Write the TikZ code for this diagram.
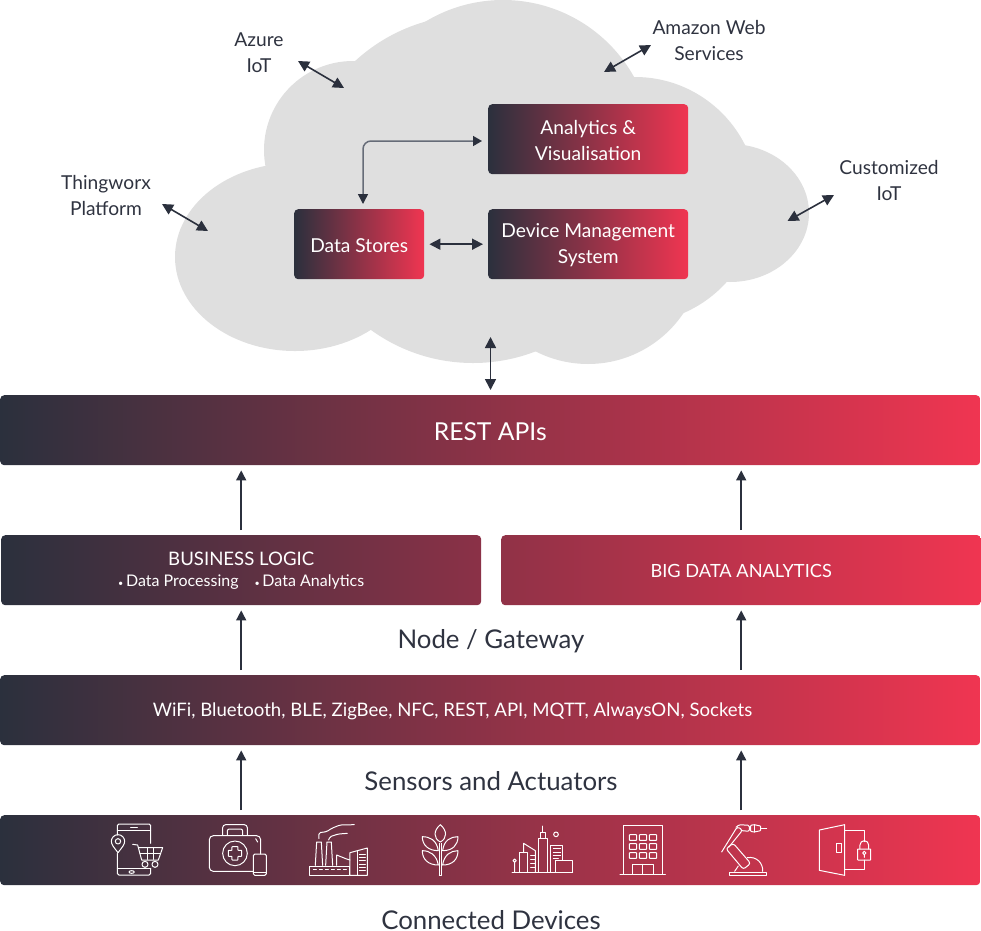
\documentclass[tikz,border=0pt]{standalone}
\usepackage{fontspec}
\setmainfont{Lato}
\usetikzlibrary{arrows.meta,calc}
\definecolor{gdark}{HTML}{2B303D}
\definecolor{gred}{HTML}{F03551}
\definecolor{cloudc}{HTML}{DFDFDF}
\definecolor{lbl}{HTML}{2F3340}
\definecolor{gline}{HTML}{666C78}
\definecolor{gmidL}{HTML}{8B3147}
\definecolor{gmidR}{HTML}{903247}
\newcommand{\nudged}[2]{\raisebox{-#1pt}[\height][\depth]{\begin{tabular}{@{}c@{}}#2\end{tabular}}}
\tikzset{
 gbox/.style={rounded corners=4pt,inner sep=0pt,text=white,align=center,left color=#1,right color=gred,anchor=north west},
 gbox/.default=gdark,
 lab/.style={text=lbl,align=center,inner sep=0pt,font=\fontsize{19.2}{26}\selectfont},
 big/.style={text=lbl,inner sep=0pt,font=\fontsize{25.8}{28}\selectfont},
 small/.style={font=\fontsize{19.2}{26}\selectfont},
 arr/.style={draw=gdark,line width=1.5pt,-{Triangle[length=10pt,width=10pt]}},
 darr/.style={draw=gdark,line width=1.6pt,{Triangle[length=11pt,width=11pt]}-{Triangle[length=11pt,width=11pt]}},
 ic/.style={draw=white,line width=1pt,line join=round,line cap=round},
}
\begin{document}
\begin{tikzpicture}[x=1pt,y=-1pt]
\useasboundingbox (0,0) rectangle (981,930);
% cloud
\fill[cloudc] (295,257) ellipse [x radius=120,y radius=94];
\fill[cloudc] (353,150) circle [radius=89];
\fill[cloudc] (503,150) circle [radius=150];
\fill[cloudc] (635,200) circle [radius=123];
\fill[cloudc] (730,213) ellipse [x radius=79,y radius=69];
\fill[cloudc] (473,189) circle [radius=174];
\fill[cloudc] (588,249) circle [radius=115];
\fill[cloudc] (680,280) -- (694,295) -- (716,281.5) -- (716,270) -- cycle;
% inner boxes
\node[gbox,small,minimum width=200pt,minimum height=70pt] (ana) at (488,104) {\nudged{3}{Analytics \&\\Visualisation}};
\node[gbox,small,minimum width=200pt,minimum height=70pt] (dms) at (488,209) {\nudged{1}{Device Management\\System}};
\node[gbox,small,minimum width=130pt,minimum height=70pt] (ds) at (294,209) {\nudged{3}{Data Stores}};
\coordinate (elbow) at (363,141);
\draw[draw=gline,line width=1.5pt,rounded corners=8pt,
  {Triangle[length=10pt,width=10pt,color=gdark]}-{Triangle[length=9pt,width=10pt,color=gdark]},shorten >=6pt,shorten <=5pt]
  (ds.north -| elbow) -- (elbow) -- (ana.west |- elbow);
\draw[darr,shorten >=5pt,shorten <=5pt] (ds.east) -- (dms.west);
% outer labels
\node[lab] (azure) at (259,52.5) {Azure\\IoT};
\node[lab] (aws) at (709,40.5) {Amazon Web\\Services};
\node[lab] (thing) at (106,195) {Thingworx\\Platform};
\node[lab] (cust) at (889,180) {Customized\\IoT};
\coordinate (a1) at (298,61); \coordinate (a2) at (344,88);
\coordinate (b1) at (651,45); \coordinate (b2) at (604,72);
\coordinate (c1) at (834,195); \coordinate (c2) at (787.5,221);
\coordinate (d1) at (162,204); \coordinate (d2) at (208,231);
\draw[darr] (a1) -- (a2);
\draw[darr] (b1) -- (b2);
\draw[darr] (c1) -- (c2);
\draw[darr] (d1) -- (d2);
% bars
\node[gbox,minimum width=980pt,minimum height=70pt,font=\fontsize{24.7}{28}\selectfont] (rest) at (0,395) {\nudged{5}{REST APIs}};
\node[gbox=gdark,right color=gmidL,minimum width=480pt,minimum height=70pt,font=\fontsize{18.6}{21}\selectfont] (biz) at (1,535) {\nudged{1.5}{BUSINESS LOGIC\\\fontsize{16}{21}\selectfont {\fontsize{9}{21}\selectfont •}\,Data Processing\quad{\fontsize{9}{21}\selectfont •}\,Data Analytics}};
\node[gbox=gmidR,minimum width=480pt,minimum height=70pt,font=\fontsize{18.2}{22}\selectfont] (bigd) at (501,535) {\nudged{3}{BIG DATA ANALYTICS}};
\node[big] (gw) at (491,641) {Node / Gateway};
\node[gbox,minimum width=980pt,minimum height=70pt] (proto) at (0,675) {};
\node[text=white,inner sep=0pt,font=\fontsize{18.6}{22}\selectfont] (prototext) at (452.5,711) {WiFi, Bluetooth, BLE, ZigBee, NFC, REST, API, MQTT, AlwaysON, Sockets};
\node[big] (sa) at (491,781) {Sensors and Actuators};
\node[gbox,minimum width=980pt,minimum height=70pt] (dev) at (0,815) {};
\node[big] (cd) at (491,920) {Connected Devices};
% connectors
\coordinate (ctop) at (490.5,337);
\draw[darr,shorten >=5pt] (ctop) -- (rest.north -| ctop);
\draw[arr,shorten >=5pt,shorten <=5pt] (biz.north) -- (rest.south -| biz.north);
\draw[arr,shorten >=5pt,shorten <=5pt] (bigd.north) -- (rest.south -| bigd.north);
\draw[arr,shorten >=5pt,shorten <=5pt] (proto.north -| biz.south) -- (biz.south);
\draw[arr,shorten >=5pt,shorten <=5pt] (proto.north -| bigd.south) -- (bigd.south);
\draw[arr,shorten >=5pt,shorten <=5pt] (dev.north -| biz.south) -- (proto.south -| biz.south);
\draw[arr,shorten >=5pt,shorten <=5pt] (dev.north -| bigd.south) -- (proto.south -| bigd.south);
% icons, coordinates in zoom space
\begin{scope}[shift={(90,810)},x=0.3333pt,y=-0.3333pt]
% phone + cart
\draw[ic,rounded corners=1.5pt] (82,75) -- (82,42) -- (182,42) -- (182,100);
\draw[ic,rounded corners=1.5pt] (82,130) -- (82,195) -- (182,195) -- (182,175);
\draw[ic] (82,60) -- (182,60) (82,175) -- (182,175) (122,51) -- (142,51);
\draw[ic] (125,186) ellipse (8 and 4);
\draw[ic] (84,128) .. controls (72,112) and (64,104) .. (64,94) arc (180:360:20) .. controls (104,104) and (96,112) .. (84,128) -- cycle;
\draw[ic] (84,94) circle (8);
\draw[ic] (128,103) -- (143,105) -- (155,150) -- (205,150) -- (218,113) -- (146,113);
\draw[ic] (150,130) -- (212,130) (172,115) -- (172,148) (190,115) -- (190,148);
\draw[ic] (165,163) circle (9) (195,163) circle (9);
% kit
\draw[ic,rounded corners=3pt] (398,75) -- (398,44) -- (472,44) -- (472,75);
\draw[ic,rounded corners=2pt] (412,75) -- (412,57) -- (458,57) -- (458,75);
\draw[ic,rounded corners=4pt] (488,184) -- (358,184) -- (358,77) -- (512,77) -- (512,132);
\draw[ic] (497,86) -- (503,96);
\draw[ic] (435,130) circle (37);
\draw[ic,rounded corners=0.5pt] (426,110) -- (444,110) -- (444,121) -- (455,121) -- (455,139) -- (444,139) -- (444,150) -- (426,150) -- (426,139) -- (415,139) -- (415,121) -- (426,121) -- cycle;
\draw[ic,rounded corners=1.5pt] (490,132) rectangle (529,196);
\draw[ic] (490,186) -- (529,186);
% factory
\draw[ic] (660,196) -- (660,168) -- (780,168) -- (780,196) -- cycle;
\draw[ic,dashed] (670,178) -- (776,178);
\draw[ic] (676,166) -- (680,96) -- (694,96) -- (698,166);
\draw[ic] (707,166) -- (711,96) -- (724,96) -- (728,166);
\draw[ic] (740,166) -- (740,135) -- (770,147) -- (780,150);
\draw[ic] (780,196) -- (780,128) -- (832,114) -- (832,196) -- cycle;
\draw[ic] (802,196) -- (802,124) (808,132) -- (826,132) (808,142) -- (826,142) (808,152) -- (826,152) (808,162) -- (826,162) (808,172) -- (826,172) (808,182) -- (826,182);
\draw[ic,rounded corners=1.5pt] (687,86) -- (687,68) -- (710,65) -- (725,55) -- (750,45) -- (793,44);
\draw[ic,rounded corners=1.5pt] (716,90) -- (720,80) -- (745,72) -- (772,70);
% plant
\draw[ic] (1048,196) -- (1048,100) (1054,196) -- (1054,100) (1048,196) -- (1054,196);
\draw[ic] (1051,44) .. controls (1030,62) and (1030,85) .. (1051,96) .. controls (1072,85) and (1072,62) .. (1051,44) -- cycle;
\draw[ic] (1045,122) .. controls (1040,90) and (1020,80) .. (997,80) .. controls (997,105) and (1015,122) .. (1045,122) -- cycle;
\draw[ic] (1058,122) .. controls (1062,90) and (1082,80) .. (1104,80) .. controls (1104,105) and (1088,122) .. (1058,122) -- cycle;
\draw[ic] (1045,165) .. controls (1040,135) and (1020,122) .. (997,122) .. controls (997,148) and (1015,165) .. (1045,165) -- cycle;
\draw[ic] (1058,165) .. controls (1062,135) and (1082,122) .. (1104,122) .. controls (1104,148) and (1088,165) .. (1058,165) -- cycle;
\end{scope}
\begin{scope}[shift={(490,810)},x=0.3333pt,y=-0.3333pt]
% city
\draw[ic] (66,186) -- (248,186);
\draw[ic] (74,186) -- (74,155) (74,152) circle (5);
\draw[ic] (87,186) -- (87,128) -- (113,128) -- (113,186);
\draw[ic] (101,128) -- (101,100) -- (136,122) -- (136,186);
\draw[ic] (122,135) -- (134,135) (122,147) -- (134,147) (122,159) -- (134,159) (122,171) -- (134,171);
\draw[ic] (145,186) -- (145,84) -- (172,84) -- (172,186);
\draw[ic] (150,84) -- (150,66) -- (167,66) -- (167,84) (158,66) -- (158,48);
\draw[ic] (182,150) -- (182,106) -- (218,106) -- (218,150) (182,150) -- (182,186);
\draw[ic] (190,116) -- (212,116) (190,126) -- (212,126) (190,136) -- (212,136) (190,146) -- (205,146);
\draw[ic] (196,150) rectangle (248,186);
\draw[ic] (198,73) circle (7);
% building
\draw[ic] (400,192) -- (400,46) -- (518,46) -- (518,192);
\draw[ic] (390,192) -- (526,192);
\foreach \yy in {74,101,128} \foreach \xx in {418,448,478}
  \draw[ic,rounded corners=0.6pt] (\xx,\yy) rectangle ++(22,17);
\draw[ic] (428,192) -- (428,163) -- (490,163) -- (490,192) (459,163) -- (459,192);
% robot
\draw[ic] (718,186) rectangle (830,196);
\draw[ic] (734,184) -- (745,168) (772,143) .. controls (800,138) and (820,160) .. (818,184);
\draw[ic,rounded corners=2.5pt] (708,116) -- (760,178) -- (782,160) -- (730,100) -- cycle;
\draw[ic,rounded corners=2.5pt] (695,126) -- (742,50) -- (758,60) -- (716,112);
\draw[ic,rounded corners=1.3pt] (738,52) -- (748,44) -- (778,46) -- (778,64) -- (757,62);
\draw[ic,rounded corners=0.7pt] (782,46) -- (792,44) -- (812,48) -- (812,62) -- (792,66) -- (782,64) -- cycle;
\draw[ic] (795,44) -- (795,66) (812,55) -- (830,55);
% door
\draw[ic] (988,60) -- (1064,44) -- (1064,196) -- (988,181) -- cycle;
\draw[ic] (1064,62) -- (1123,62) -- (1123,95) (1064,179) -- (1123,179) -- (1123,150);
\draw[ic] (1040,100) rectangle (1054,127);
\draw[ic,rounded corners=0.4pt] (1103,117) rectangle (1142,150);
\draw[ic] (1110,117) -- (1110,105) arc (180:360:13) -- (1136,117);
\draw[ic] (1123,129) circle (5) (1123,134) -- (1123,142);
\end{scope}
\end{tikzpicture}
\end{document}
